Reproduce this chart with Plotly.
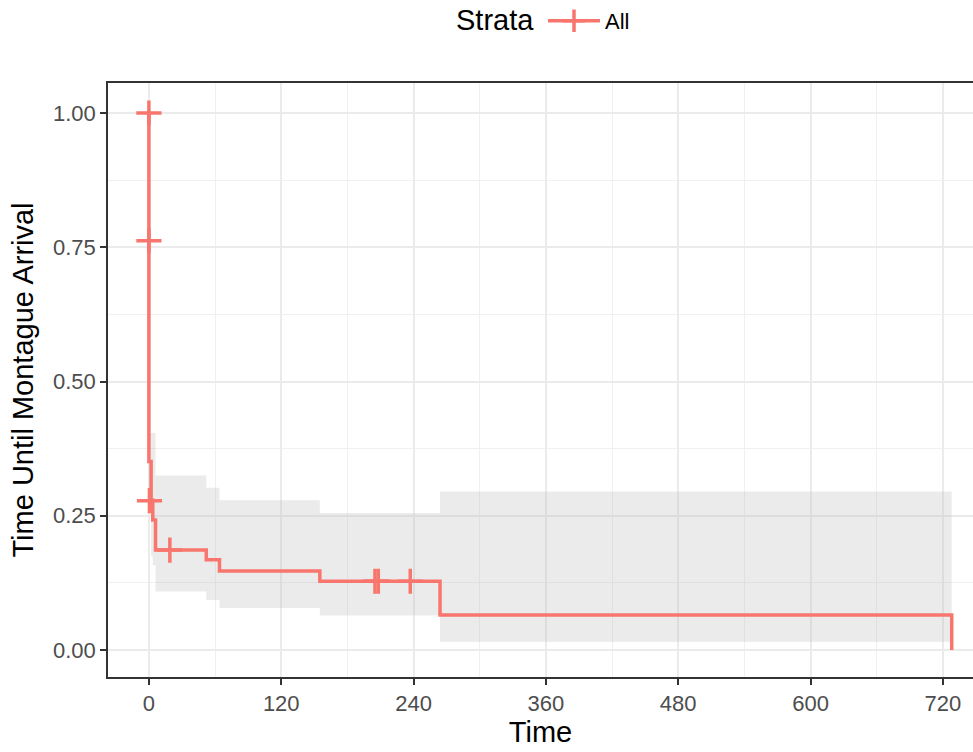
import plotly.graph_objects as go

# Kaplan-Meier estimate for the single stratum "All":
# each survival value holds from its time until the next time
step_time = [0, 0, 2, 3.5, 6, 52, 64, 155, 264, 728]
step_surv = [1.0, 0.351, 0.279, 0.242, 0.186, 0.168, 0.147, 0.128, 0.065, 0.0]

# Pointwise confidence band, same convention (last value repeated at the end time)
band_time = [0, 2, 3.5, 6, 52, 64, 155, 264, 728]
band_upper = [0.404, 0.404, 0.404, 0.325, 0.302, 0.279, 0.255, 0.295, 0.295]
band_lower = [0.262, 0.175, 0.158, 0.109, 0.093, 0.078, 0.064, 0.0155, 0.0155]

# Censored observations
censor_time = [0, 0, 0.5, 19, 205, 208, 237]
censor_surv = [1.0, 0.762, 0.278, 0.186, 0.128, 0.128, 0.128]

x_ticks = [0, 120, 240, 360, 480, 600, 720]
x_minor = [60, 180, 300, 420, 540, 660]
y_ticks = [0.0, 0.25, 0.5, 0.75, 1.0]
y_minor = [0.125, 0.375, 0.625, 0.875]

RED = "#F8766D"
FONT = "Liberation Sans, Arial, sans-serif"

fig = go.Figure()

# band: upper edge first, lower edge filled up to it
fig.add_trace(go.Scatter(
    x=band_time, y=band_upper, mode="lines",
    line=dict(width=0, shape="hv"), showlegend=False, hoverinfo="skip"))
fig.add_trace(go.Scatter(
    x=band_time, y=band_lower, mode="lines",
    line=dict(width=0, shape="hv"), fill="tonexty",
    fillcolor="rgba(190,190,190,0.3)", showlegend=False, hoverinfo="skip"))

# survival curve
fig.add_trace(go.Scatter(
    x=step_time, y=step_surv, mode="lines",
    line=dict(color=RED, width=3.5, shape="hv"), showlegend=False))

# censor marks
cross = dict(symbol="cross-thin", size=18, line=dict(color=RED, width=3.5))
fig.add_trace(go.Scatter(
    x=censor_time, y=censor_surv, mode="markers",
    marker=cross, showlegend=False))

# legend entry
fig.add_trace(go.Scatter(
    x=[None], y=[None], mode="lines+markers", name="All",
    line=dict(color=RED, width=3.5), marker=cross))

axis_common = dict(
    showgrid=True, gridcolor="#EBEBEB", gridwidth=1.5,
    zeroline=False, showline=True, linecolor="#333333", linewidth=1.5,
    ticks="outside", ticklen=6, tickwidth=1.5, tickcolor="#333333",
    tickfont=dict(family=FONT, size=22, color="#4D4D4D"),
)

fig.update_xaxes(
    **axis_common, mirror=True,
    range=[-37.1, 747.3], tickvals=x_ticks,
    minor=dict(tickvals=x_minor, showgrid=True,
               gridcolor="#F0F0F0", gridwidth=1, ticks=""),
    title=dict(text="Time", font=dict(family=FONT, size=29, color="black"), standoff=4),
)
fig.update_yaxes(
    **axis_common,
    range=[-0.0503, 1.0559], tickvals=y_ticks, tickformat=".2f",
    minor=dict(tickvals=y_minor, showgrid=True,
               gridcolor="#F0F0F0", gridwidth=1, ticks=""),
    title=dict(text="Time Until Montague Arrival", font=dict(family=FONT, size=29, color="black"), standoff=11),
)

# legend title, placed beside the single legend item
fig.add_annotation(
    text="Strata", xref="paper", yref="paper",
    x=(454 - 108) / 865, y=1 + (83 - 20) / 594,
    xanchor="left", yanchor="middle", showarrow=False,
    font=dict(family=FONT, size=29, color="black"),
)

fig.update_layout(
    width=973, height=752,
    margin=dict(l=108, r=0, t=83, b=75, autoexpand=False),
    plot_bgcolor="white", paper_bgcolor="white",
    font=dict(family=FONT),
    legend=dict(
        orientation="h", xref="container", yref="container",
        x=543 / 973, xanchor="left", y=1 - 21 / 752, yanchor="middle",
        font=dict(family=FONT, size=22, color="black"),
        itemwidth=52,
    ),
)

fig.write_html("out.html")
